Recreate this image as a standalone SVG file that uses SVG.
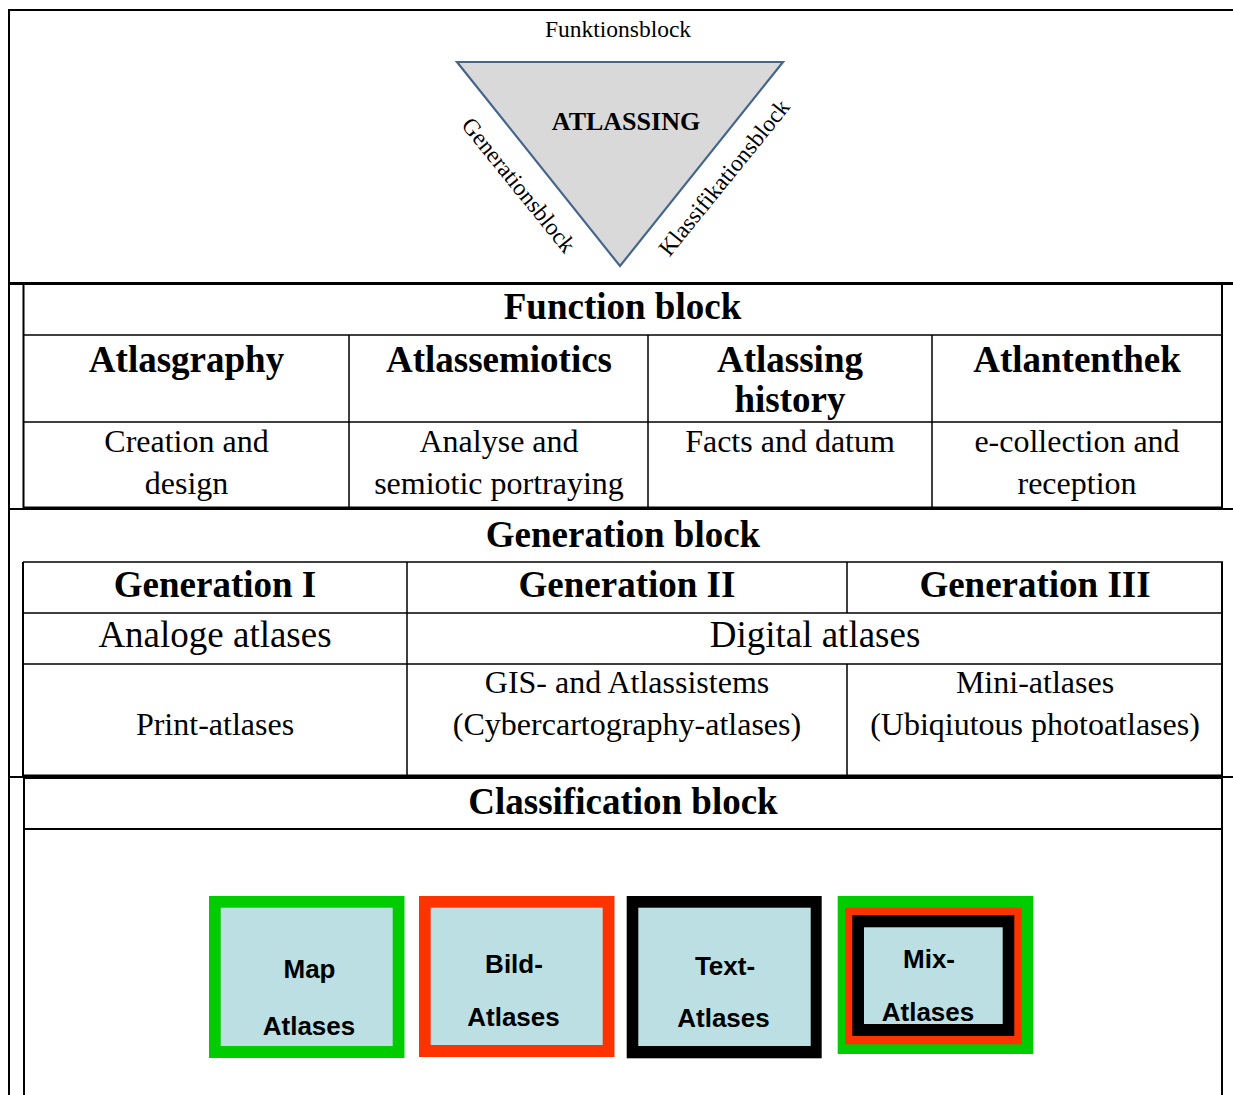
<svg xmlns="http://www.w3.org/2000/svg" width="1233" height="1095" viewBox="0 0 1233 1095">
<style>
  .ln{stroke:#000;fill:none;stroke-width:1.5}
  .m{stroke-width:2}
  .tk{stroke-width:3.2}
  .serif{font-family:"Liberation Serif","Times New Roman",serif;fill:#000;text-anchor:middle}
  .hb{font-size:37px;font-weight:bold}
  .rg{font-size:32px}
  .lg{font-size:37px}
  .small{font-size:23.5px}
  .sans{font-family:"Liberation Sans",Arial,sans-serif;font-weight:bold;font-size:26px;fill:#000;text-anchor:middle}
  .fill{fill:#bbdfe2}
</style>
<rect width="1233" height="1095" fill="#fff"/>

<g id="frame">
  <path class="ln m" d="M8 10H1233M9 9V1095"/>
  <path class="ln tk" d="M8 283.5H1233"/>
  <path class="ln m" d="M8 509H1233M8 777H1233"/>
</g>

<g id="triangle">
  <polygon points="457,62 783,62 620,266" fill="#d9d9d9" stroke="#46668e" stroke-width="2.2" stroke-linejoin="miter"/>
  <text class="serif small" x="618" y="37">Funktionsblock</text>
  <text class="serif" x="626" y="130" font-size="26" font-weight="bold">ATLASSING</text>
  <text class="serif small" transform="translate(512.6,190) rotate(51)" x="0" y="0">Generationsblock</text>
  <text class="serif small" transform="translate(730.2,182.5) rotate(-51)" x="0" y="0">Klassifikationsblock</text>
</g>

<g id="function-block">
  <path class="ln m" d="M23.5 283V509M1222 283V509"/>
  <path class="ln" d="M23 335H1222M23 422H1222M349 335V508M648 335V508M932 335V508"/>
  <path class="ln tk" d="M23 508H1223"/>
  <text class="serif hb" x="622.5" y="319">Function block</text>
  <g id="atlasgraphy">
    <text class="serif hb" x="186.5" y="372">Atlasgraphy</text>
    <text class="serif rg" x="186.5" y="452">Creation and</text>
    <text class="serif rg" x="186.5" y="494">design</text>
  </g>
  <g id="atlassemiotics">
    <text class="serif hb" x="499" y="372">Atlassemiotics</text>
    <text class="serif rg" x="499" y="452">Analyse and</text>
    <text class="serif rg" x="499" y="494">semiotic portraying</text>
  </g>
  <g id="atlassing-history">
    <text class="serif hb" x="790" y="372">Atlassing</text>
    <text class="serif hb" x="790" y="412">history</text>
    <text class="serif rg" x="790" y="452">Facts and datum</text>
  </g>
  <g id="atlantenthek">
    <text class="serif hb" x="1077" y="372">Atlantenthek</text>
    <text class="serif rg" x="1077" y="452">e-collection and</text>
    <text class="serif rg" x="1077" y="494">reception</text>
  </g>
</g>

<g id="generation-block">
  <path class="ln m" d="M23 562V777M1222 562V777"/>
  <path class="ln" d="M23 562H1223M23 613H1222M23 664H1222M407 562V776M847 562V613M847 664V776"/>
  <path class="ln tk" d="M23 776H1223"/>
  <text class="serif hb" x="623" y="547">Generation block</text>
  <g id="generation-1">
    <text class="serif hb" x="215" y="597">Generation I</text>
    <text class="serif lg" x="215" y="647">Analoge atlases</text>
    <text class="serif rg" x="215" y="735">Print-atlases</text>
  </g>
  <g id="generation-2">
    <text class="serif hb" x="627" y="597">Generation II</text>
    <text class="serif rg" x="627" y="693">GIS- and Atlassistems</text>
    <text class="serif rg" x="627" y="735">(Cybercartography-atlases)</text>
  </g>
  <g id="generation-3">
    <text class="serif hb" x="1035" y="597">Generation III</text>
    <text class="serif rg" x="1035" y="693">Mini-atlases</text>
    <text class="serif rg" x="1035" y="735">(Ubiqiutous photoatlases)</text>
  </g>
  <text class="serif lg" x="815" y="647">Digital atlases</text>
</g>

<g id="classification-block">
  <path class="ln m" d="M24 777V1095M1222 777V1095M23 829H1222"/>
  <path class="ln tk" d="M23 777.5H1223"/>
  <text class="serif hb" x="623" y="814">Classification block</text>
  <g id="map-atlases">
    <rect x="209" y="896" width="195.5" height="162" fill="#00cc00"/>
    <rect class="fill" x="220.7" y="907.7" width="172" height="138.3"/>
    <text class="sans" x="309.5" y="978">Map</text>
    <text class="sans" x="309" y="1035">Atlases</text>
  </g>
  <g id="bild-atlases">
    <rect x="419" y="896" width="195.5" height="161" fill="#ff3300"/>
    <rect class="fill" x="430.7" y="907.7" width="172" height="137.3"/>
    <text class="sans" x="514" y="973">Bild-</text>
    <text class="sans" x="513.5" y="1026">Atlases</text>
  </g>
  <g id="text-atlases">
    <rect x="626.7" y="896" width="195" height="162.3" fill="#000"/>
    <rect class="fill" x="638.3" y="907.7" width="172.4" height="138.3"/>
    <text class="sans" x="725" y="975">Text-</text>
    <text class="sans" x="723.5" y="1027">Atlases</text>
  </g>
  <g id="mix-atlases">
    <rect x="837.7" y="896" width="195.6" height="158" fill="#00cc00"/>
    <rect x="845" y="907.7" width="176.7" height="136.6" fill="#ff3300"/>
    <rect x="852.3" y="915" width="162" height="121" fill="#000"/>
    <rect class="fill" x="864" y="927.3" width="138.7" height="96.7"/>
    <text class="sans" x="929" y="968">Mix-</text>
    <text class="sans" x="928" y="1021">Atlases</text>
  </g>
</g>
</svg>
